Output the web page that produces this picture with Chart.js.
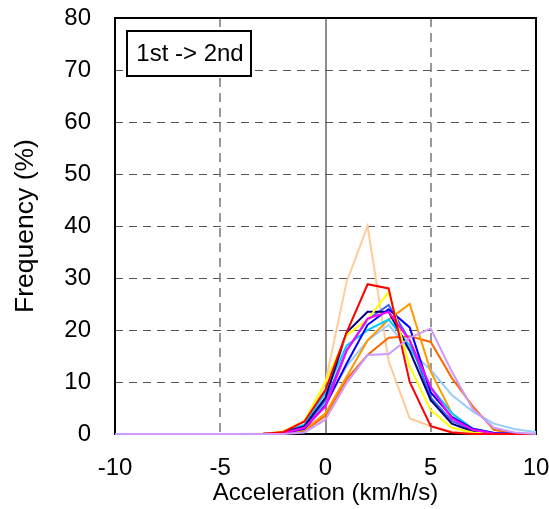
<!DOCTYPE html>
<html>
<head>
<meta charset="utf-8">
<script src="https://cdn.jsdelivr.net/npm/chart.js@4/dist/chart.umd.min.js"></script>
<style>
  html, body { margin: 0; padding: 0; background: #fff; }
  #wrap { width: 549px; height: 509px; }
</style>
</head>
<body>
<div id="wrap"><canvas id="c" width="549" height="509"></canvas></div>
<script>
// Acceleration bins (km/h/s)
const accel = [-10, -9, -8, -7, -6, -5, -4, -3, -2, -1, 0, 1, 2, 3, 4, 5, 6, 7, 8, 9, 10];

// Frequency (%) per bin, one array per vehicle
const lavender   = [0, 0, 0, 0, 0, 0, 0, 0, 0,   0.3, 2.8, 9.8, 15.2, 15.4, 18.5, 20.3, 12,   4.8, 1.2, 0.3, 0];
const red        = [0, 0, 0, 0, 0, 0, 0, 0, 0.4, 2.4, 8.5, 19.5, 28.8, 28,   10,   1.5,  0.3,  0,   0,   0,   0];
const magenta    = [0, 0, 0, 0, 0, 0, 0, 0, 0.2, 1.2, 5.3, 16,   22.2, 23.5, 18,   9,    3,    0.8, 0.1, 0,   0];
const yellow     = [0, 0, 0, 0, 0, 0, 0, 0, 0.5, 2.5, 10,  19,   22,   27.3, 13,   4.6,  1.2,  0.3, 0,   0,   0];
const blue       = [0, 0, 0, 0, 0, 0, 0, 0, 0.2, 1,   5.5, 13.5, 21,   24,   20.5, 8,    3.3,  1,   0.2, 0,   0];
const navy       = [0, 0, 0, 0, 0, 0, 0, 0, 0.3, 1.5, 7,   19.5, 23.5, 23.5, 16,   6.5,  2,    0.5, 0.1, 0,   0];
const royalBlue  = [0, 0, 0, 0, 0, 0, 0, 0, 0.2, 1.3, 6.5, 16,   22,   24.8, 18,   7,    2.5,  0.7, 0.1, 0,   0];
const cyan       = [0, 0, 0, 0, 0, 0, 0, 0, 0.3, 1.8, 8,   17,   20,   22,   17,   9,    4,    1,   0.2, 0,   0];
const orange     = [0, 0, 0, 0, 0, 0, 0, 0, 0.1, 0.8, 4,   11,   18,   22,   25,   12,   4,    1,   0.2, 0,   0];
const darkOrange = [0, 0, 0, 0, 0, 0, 0, 0, 0.1, 0.6, 3.5, 10.5, 15.2, 18.5, 18.8, 17.7, 10.8, 5.3, 0.8, 0.1, 0];
const skyBlue    = [0, 0, 0, 0, 0, 0, 0, 0, 0.2, 1.2, 6,   13,   18,   21,   16,   12.3, 7.5,  4.3, 2,   0.9, 0.4];
const peach      = [0, 0, 0, 0, 0, 0, 0, 0.1, 0.3, 1, 10,  29.2, 40,   14,   3,    1.5,  0.5,  0.1, 0,   0,   0];

// Axis ticks, reference lines and captions
const xTicks = [-10, -5, 0, 5, 10];
const yTicks = [0, 10, 20, 30, 40, 50, 60, 70, 80];
const xDashed = [-5, 5];
const yDashed = [10, 20, 30, 40, 50, 60, 70];
const panelLabel = '1st -> 2nd';
const xTitle = 'Acceleration (km/h/s)';
const yTitle = 'Frequency (%)';

// First entry is drawn on top
const series = [
  { values: lavender,   color: '#CC99FF' },
  { values: red,        color: '#FF0000' },
  { values: magenta,    color: '#FF00FF' },
  { values: yellow,     color: '#FFFF00' },
  { values: blue,       color: '#0000FF' },
  { values: navy,       color: '#000080' },
  { values: royalBlue,  color: '#3366FF' },
  { values: cyan,       color: '#00CCFF' },
  { values: orange,     color: '#FF9900' },
  { values: darkOrange, color: '#FF6600' },
  { values: skyBlue,    color: '#99CCFF' },
  { values: peach,      color: '#FFCC99' }
];

const FAMILY = '"Liberation Sans", Arial, sans-serif';
const TEXT_FONT = { family: FAMILY, size: 24 };
const Y_TITLE_FONT = { family: FAMILY, size: 26.5 };

const framePlugin = {
  id: 'framePlugin',
  beforeDatasetsDraw(chart) {
    const { ctx, chartArea: a, scales: { x, y } } = chart;
    ctx.save();
    // horizontal dashed grid
    ctx.strokeStyle = '#555';
    ctx.lineWidth = 1;
    ctx.setLineDash([8, 6]);
    yDashed.forEach(v => {
      const py = Math.round(y.getPixelForValue(v)) + 0.5;
      ctx.beginPath(); ctx.moveTo(a.left, py); ctx.lineTo(a.right, py); ctx.stroke();
    });
    // vertical dashed grid
    ctx.strokeStyle = '#777';
    ctx.lineWidth = 1.5;
    ctx.setLineDash([9, 6]);
    xDashed.forEach(v => {
      const px = Math.round(x.getPixelForValue(v));
      ctx.beginPath(); ctx.moveTo(px, a.top); ctx.lineTo(px, a.bottom); ctx.stroke();
    });
    // zero line
    ctx.setLineDash([]);
    ctx.strokeStyle = '#666';
    ctx.lineWidth = 1.5;
    const x0 = Math.round(x.getPixelForValue(0));
    ctx.beginPath(); ctx.moveTo(x0, a.top); ctx.lineTo(x0, a.bottom); ctx.stroke();
    // plot frame
    ctx.strokeStyle = '#000';
    ctx.lineWidth = 2;
    ctx.strokeRect(a.left, a.top, a.right - a.left, a.bottom - a.top);
    // panel label box
    const bx = a.left + 12, by = a.top + 13, bw = 124, bh = 45;
    ctx.fillStyle = '#fff';
    ctx.fillRect(bx, by, bw, bh);
    ctx.strokeRect(bx, by, bw, bh);
    ctx.fillStyle = '#000';
    ctx.font = `${TEXT_FONT.size}px ${FAMILY}`;
    ctx.textAlign = 'center';
    ctx.textBaseline = 'middle';
    ctx.fillText(panelLabel, bx + bw / 2 + 1, by + bh / 2 + 1);
    ctx.restore();
  }
};

// fixed scale boxes, no extra room for label overhang
function noOverhang(s) {
  s.paddingLeft = 0; s.paddingRight = 0; s.paddingTop = 0; s.paddingBottom = 0;
}

new Chart(document.getElementById('c'), {
  type: 'line',
  data: {
    datasets: series.map(s => ({
      data: s.values.map((v, i) => ({ x: accel[i], y: v })),
      borderColor: s.color,
      backgroundColor: s.color,
      borderWidth: 2,
      pointRadius: 0,
      tension: 0,
      fill: false,
      clip: false
    }))
  },
  options: {
    responsive: false,
    animation: false,
    devicePixelRatio: 1,
    layout: { padding: { left: 0, right: 13, top: 18, bottom: 0 } },
    plugins: { legend: { display: false }, tooltip: { enabled: false } },
    scales: {
      x: {
        type: 'linear', min: -10, max: 10,
        afterBuildTicks: s => { s.ticks = xTicks.map(v => ({ value: v })); },
        afterFit: s => { s.height = 75; noOverhang(s); },
        ticks: { padding: 19.5, color: '#000', font: TEXT_FONT, maxRotation: 0 },
        grid: { display: false, drawTicks: false },
        border: { display: false },
        title: { display: true, text: xTitle, color: '#000', font: TEXT_FONT, padding: { top: 0, bottom: 1.5 } }
      },
      y: {
        min: 0, max: 80,
        afterBuildTicks: s => { s.ticks = yTicks.map(v => ({ value: v })); },
        afterFit: s => { s.width = 115; noOverhang(s); },
        ticks: { padding: 24, color: '#000', font: TEXT_FONT },
        grid: { display: false, drawTicks: false },
        border: { display: false },
        title: { display: true, text: yTitle, color: '#000', font: Y_TITLE_FONT, padding: { top: 10, bottom: 0 } }
      }
    }
  },
  plugins: [framePlugin]
});
</script>
</body>
</html>
